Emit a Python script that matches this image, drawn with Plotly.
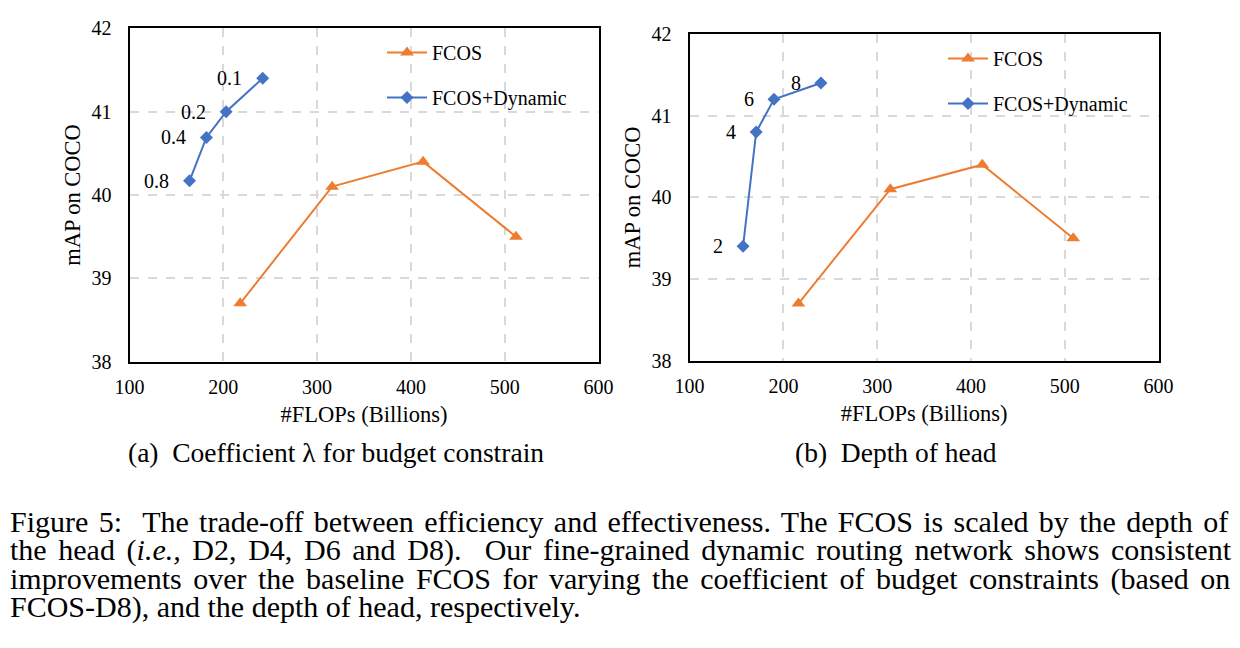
import plotly.graph_objects as go

# ---------------- data ----------------
x_ticks = [100, 200, 300, 400, 500, 600]
y_ticks = [38, 39, 40, 41, 42]

# (a) coefficient lambda
a_fcos_flops = [218, 316, 413, 512]
a_fcos_map = [38.7, 40.1, 40.4, 39.5]
a_dyn_flops = [164, 182, 203, 242]
a_dyn_map = [40.17, 40.69, 41.0, 41.4]
a_dyn_labels = ["0.8", "0.4", "0.2", "0.1"]

# (b) depth of head
b_fcos_flops = [216, 314, 412, 509]
b_fcos_map = [38.7, 40.1, 40.4, 39.5]
b_dyn_flops = [157, 171, 190, 240]
b_dyn_map = [39.4, 40.8, 41.2, 41.4]
b_dyn_labels = ["2", "4", "6", "8"]

sub_captions = ["(a)  Coefficient λ for budget constrain", "(b)  Depth of head"]
caption_lines = [
    "Figure 5:  The trade-off between efficiency and effectiveness. The FCOS is scaled by the depth of",
    "the head (<i>i.e.,</i> D2, D4, D6 and D8).  Our fine-grained dynamic routing network shows consistent",
    "improvements over the baseline FCOS for varying the coefficient of budget constraints (based on",
    "FCOS-D8), and the depth of head, respectively.",
]
caption_justify = [True, True, True, False]

# ---------------- style ----------------
W, H = 1240, 648
PAGE_OFFSET = 8  # the page body margin shifts the figure by this many px
ORANGE = "#ED7D31"
BLUE = "#4472C4"
SERIF = "Liberation Serif, Times New Roman, serif"
GRID = "#D9D9D9"

# Times-Roman advance widths (per 1000 em) used to justify the caption
TIMES = {
    " ": 250, "!": 333, "#": 500, "(": 333, ")": 333, "+": 564, ",": 250, "-": 333, ".": 250, ":": 278,
    "0": 500, "1": 500, "2": 500, "3": 500, "4": 500, "5": 500, "6": 500, "7": 500, "8": 500, "9": 500,
    "A": 722, "B": 667, "C": 667, "D": 722, "E": 611, "F": 556, "G": 722, "H": 722, "I": 333, "J": 389,
    "K": 722, "L": 611, "M": 889, "N": 722, "O": 722, "P": 556, "Q": 722, "R": 667, "S": 556, "T": 611,
    "U": 722, "V": 722, "W": 944, "X": 722, "Y": 722, "Z": 611,
    "a": 444, "b": 500, "c": 444, "d": 500, "e": 444, "f": 333, "g": 500, "h": 500, "i": 278, "j": 278,
    "k": 500, "l": 278, "m": 778, "n": 500, "o": 500, "p": 500, "q": 500, "r": 333, "s": 389, "t": 278,
    "u": 500, "v": 500, "w": 722, "x": 500, "y": 500, "z": 444,
}


def text_width(s, size):
    s = s.replace("<i>", "").replace("</i>", "")
    return sum(TIMES.get(c, 500) for c in s) * size / 1000.0


fig = go.Figure()


def px_x(v):
    return (v - PAGE_OFFSET) / W


def px_y(v):
    return 1 - (v - PAGE_OFFSET) / H


panels = [
    dict(xa="x", ya="y", leg="legend", fx=a_fcos_flops, fy=a_fcos_map, dx=a_dyn_flops, dy=a_dyn_map,
         lab=a_dyn_labels, box=(129.5, 598.5, 28.3, 361.7), shift=-33, legpos=(382, 33)),
    dict(xa="x2", ya="y2", leg="legend2", fx=b_fcos_flops, fy=b_fcos_map, dx=b_dyn_flops, dy=b_dyn_map,
         lab=b_dyn_labels, box=(689.6, 1158.6, 34, 360.7), shift=-25, legpos=(943, 39)),
]

for p in panels:
    fig.add_trace(go.Scatter(
        x=p["fx"], y=p["fy"], mode="lines+markers", name="FCOS",
        line=dict(color=ORANGE, width=2), marker=dict(symbol="triangle-up", size=12, color=ORANGE),
        xaxis=p["xa"], yaxis=p["ya"], legend=p["leg"], legendgroup="g1" + p["xa"]))
    fig.add_trace(go.Scatter(
        x=p["dx"], y=p["dy"], mode="lines+markers", name="FCOS+Dynamic",
        line=dict(color=BLUE, width=2), marker=dict(symbol="diamond", size=10, color=BLUE),
        xaxis=p["xa"], yaxis=p["ya"], legend=p["leg"], legendgroup="g2" + p["xa"]))
    for xv, yv, t in zip(p["dx"], p["dy"], p["lab"]):
        fig.add_annotation(x=xv, y=yv, xref=p["xa"], yref=p["ya"], text=t, showarrow=False,
                           xshift=p["shift"], font=dict(family=SERIF, size=20, color="black"))

axis_common = dict(
    showgrid=True, gridcolor=GRID, griddash="dash", gridwidth=1.5,
    showline=True, linecolor="black", linewidth=2, mirror=True, ticks="", automargin=False,
    tickfont=dict(family=SERIF, size=20, color="black"), zeroline=False,
    title_font=dict(family=SERIF, size=22.5, color="black"),
)

fig.update_layout(
    width=W, height=H, margin=dict(l=0, r=0, t=0, b=0),
    paper_bgcolor="white", plot_bgcolor="white", showlegend=True,
)

for i, p in enumerate(panels):
    l, r, t, b = p["box"]
    sfx = "" if i == 0 else "2"
    fig.update_layout(**{
        "xaxis" + sfx: dict(axis_common, domain=[px_x(l), px_x(r)], range=[100, 600], tickvals=x_ticks,
                            ticklabelstandoff=6,
                            title=dict(text="#FLOPs (Billions)", standoff=10), anchor="y" + sfx),
        "yaxis" + sfx: dict(axis_common, domain=[px_y(b), px_y(t)], range=[38, 42], tickvals=y_ticks,
                            ticklabelstandoff=12,
                            title=dict(text="mAP on COCO", standoff=5), anchor="x" + sfx),
        ("legend" if i == 0 else "legend2"): dict(
            x=px_x(p["legpos"][0]), y=px_y(p["legpos"][1]), xanchor="left", yanchor="top",
            bgcolor="rgba(0,0,0,0)", tracegroupgap=16, itemwidth=40,
            font=dict(family=SERIF, size=20, color="black")),
    })

# subplot captions
for txt, cx in zip(sub_captions, [336, 895.5]):
    fig.add_annotation(x=px_x(cx), y=px_y(452), xref="paper", yref="paper", text=txt, showarrow=False,
                       xanchor="center", yanchor="middle", font=dict(family=SERIF, size=27.5, color="black"))

# figure caption: one multi-line text; the line pitch comes from the base font size,
# the glyphs from a 30px span, and justification from per-line word spacing
CAP_SIZE = 30
LINE_PITCH = 28.4
LEFT, RIGHT = 8, 1229
html_lines = []
for line, just in zip(caption_lines, caption_justify):
    plain = line.replace("<i>", "").replace("</i>", "")
    n_spaces = plain.count(" ")
    natural = text_width(plain, CAP_SIZE)
    ws = (RIGHT - LEFT - natural) / n_spaces if just else 0.0
    html_lines.append('<span style="font-size:%dpx;word-spacing:%.2fpx">%s</span>' % (CAP_SIZE, ws, line))

fig.add_annotation(x=px_x(LEFT), y=px_y(503), xref="paper", yref="paper", text="<br>".join(html_lines),
                   showarrow=False, xanchor="left", yanchor="top", align="left",
                   font=dict(family=SERIF, size=LINE_PITCH / 1.3, color="black"))

fig.write_html("out.html")
